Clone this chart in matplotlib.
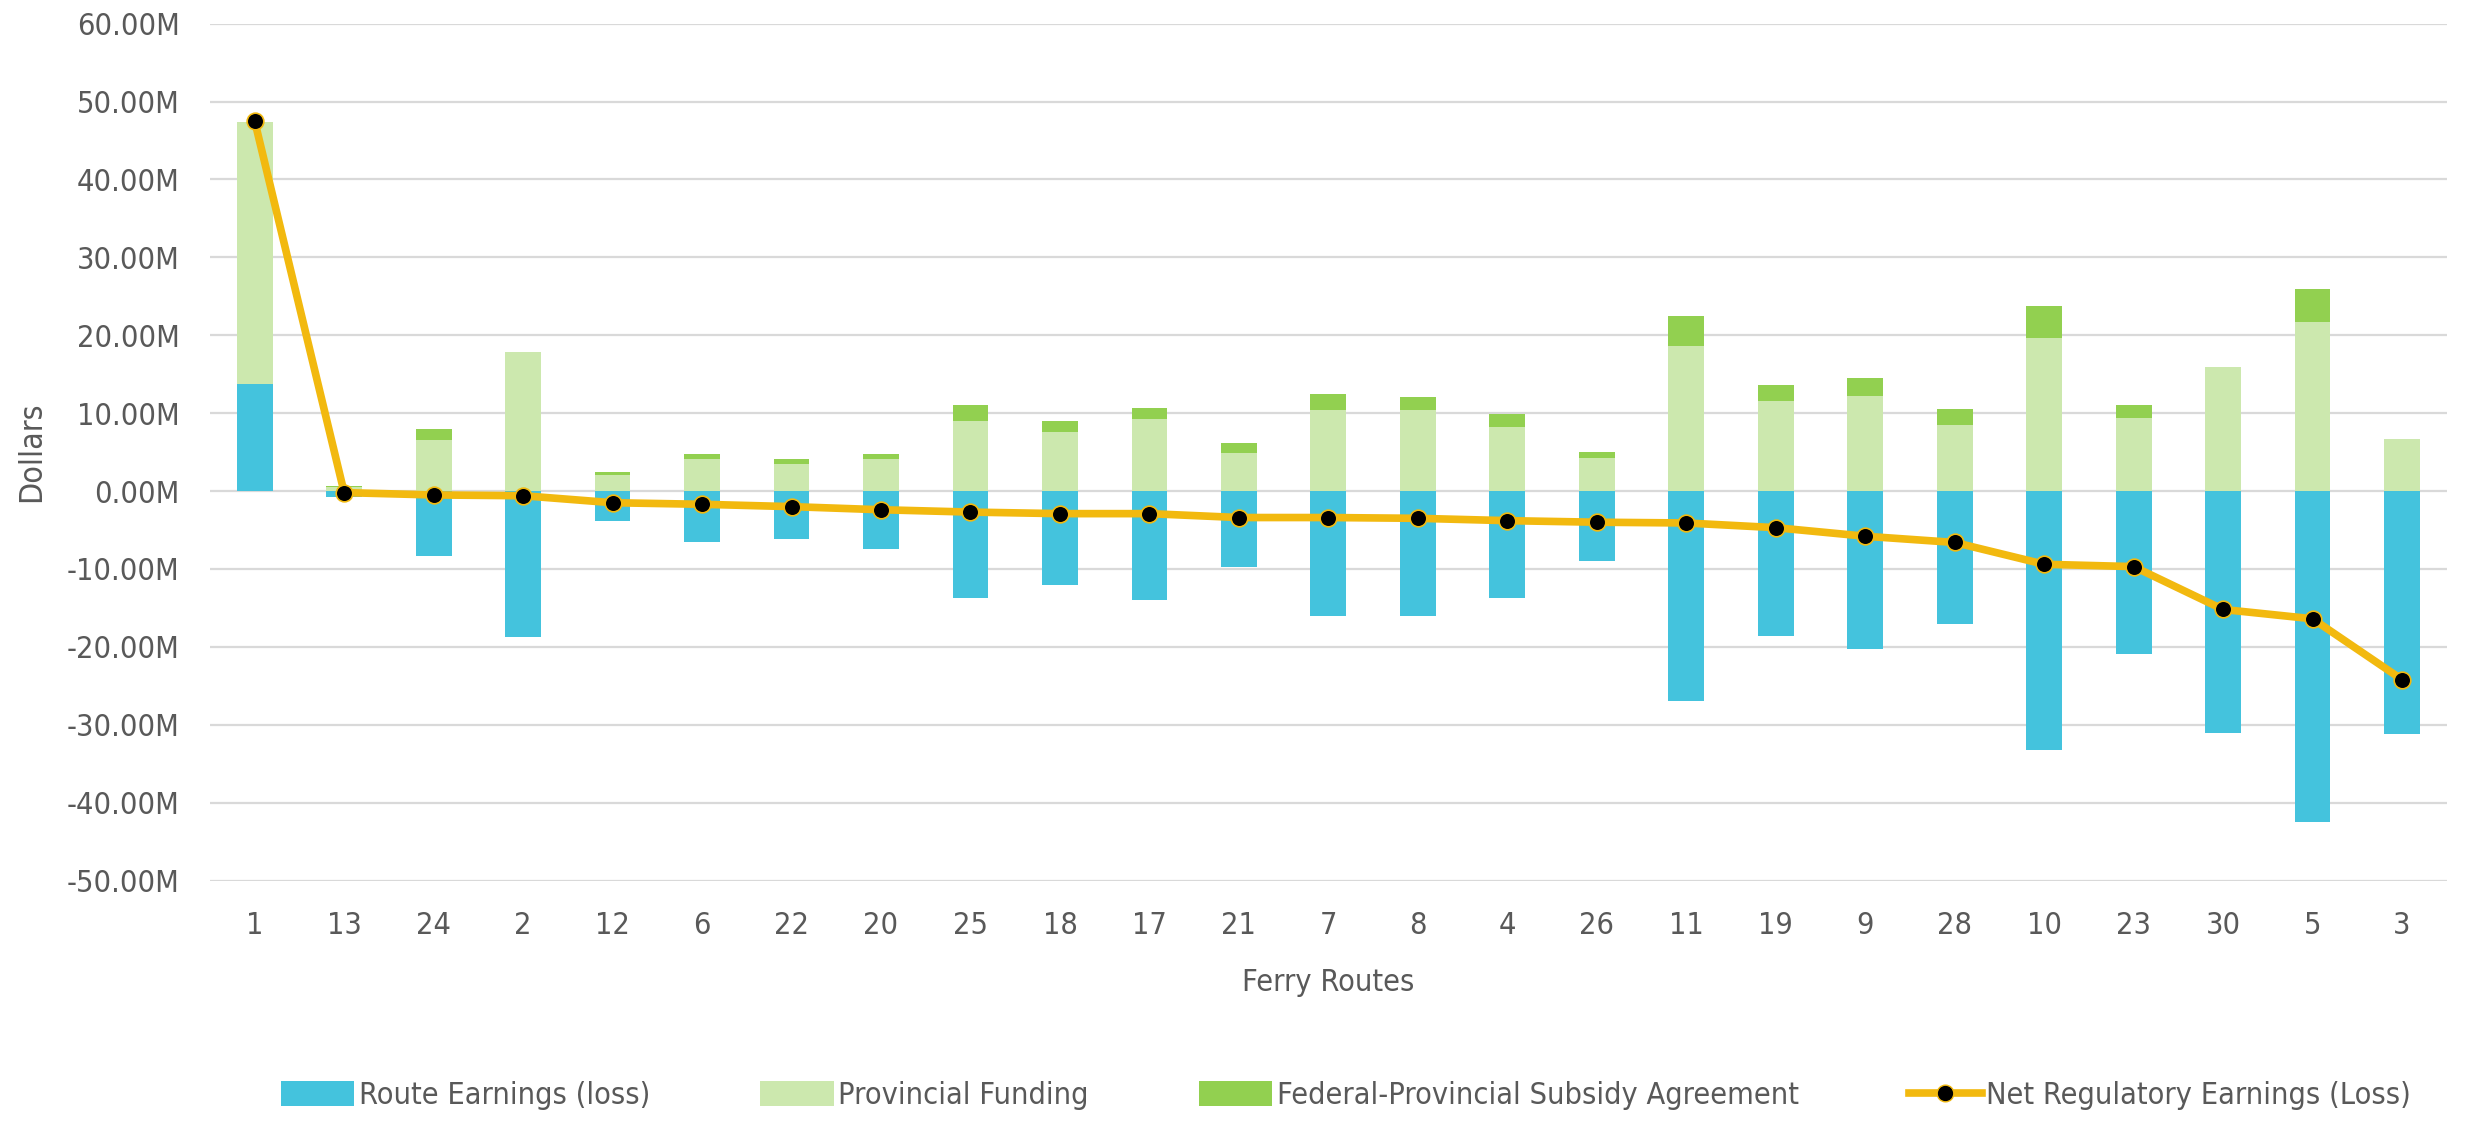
import matplotlib
matplotlib.use('Agg')
import matplotlib.pyplot as plt
import numpy as np
from matplotlib.ticker import FuncFormatter, MultipleLocator
from matplotlib.lines import Line2D
from matplotlib.patches import Patch

plt.rcParams['font.family'] = ['DejaVu Sans']
plt.rcParams['font.stretch'] = 'condensed'

routes = ['1', '13', '24', '2', '12', '6', '22', '20', '25', '18', '17', '21', '7',
          '8', '4', '26', '11', '19', '9', '28', '10', '23', '30', '5', '3']
# values in millions of dollars
route_earnings = [13.7, -0.7, -8.4, -18.8, -3.9, -6.5, -6.2, -7.4, -13.7, -12.0, -14.0, -9.7, -16.0,
                  -16.0, -13.7, -9.0, -27.0, -18.6, -20.3, -17.1, -33.3, -20.9, -31.0, -42.5, -31.2]
provincial = [33.7, 0.5, 6.6, 17.9, 2.1, 4.1, 3.5, 4.1, 9.0, 7.6, 9.3, 4.9, 10.4,
              10.4, 8.2, 4.2, 18.6, 11.6, 12.2, 8.5, 19.7, 9.4, 15.9, 21.7, 6.7]
federal = [0.0, 0.2, 1.4, 0.0, 0.3, 0.6, 0.6, 0.6, 2.0, 1.4, 1.4, 1.3, 2.1,
           1.7, 1.7, 0.8, 3.9, 2.0, 2.3, 2.0, 4.0, 1.6, 0.0, 4.3, 0.0]
net_earnings = [47.5, -0.2, -0.5, -0.6, -1.5, -1.7, -2.0, -2.4, -2.7, -2.9, -2.9, -3.4, -3.4,
                -3.5, -3.8, -4.0, -4.1, -4.7, -5.8, -6.6, -9.4, -9.7, -15.2, -16.4, -24.2]

blue = '#44C3DD'
light_green = '#CCE8AE'
green = '#92D050'
gold = '#F2B90F'
text_col = '#595959'
grid_col = '#D9D9D9'

fig = plt.figure(figsize=(24.79, 11.21), dpi=100)
ax = fig.add_axes([0.0847, 0.2145, 0.9023, 0.7644])

x = np.arange(len(routes))
re = np.array(route_earnings)
pv = np.array(provincial)
fd = np.array(federal)
pos_base = np.clip(re, 0, None)
w = 0.4

ax.bar(x, re, w, color=blue, zorder=2, label='Route Earnings (loss)')
ax.bar(x, pv, w, bottom=pos_base, color=light_green, zorder=2, label='Provincial Funding')
ax.bar(x, fd, w, bottom=pos_base + pv, color=green, zorder=2, label='Federal-Provincial Subsidy Agreement')
ax.plot(x, net_earnings, color=gold, linewidth=5.5, marker='o', markersize=12,
        markerfacecolor='black', markeredgecolor=gold, markeredgewidth=1.2, zorder=3)

ax.set_xlim(-0.5, len(routes) - 0.5)
ax.set_ylim(-50, 60)
ax.yaxis.set_major_locator(MultipleLocator(10))
ax.yaxis.set_major_formatter(FuncFormatter(lambda v, p: f'{v:.2f}M'))
ax.set_xticks(x)
ax.set_xticklabels(routes)
ax.grid(True, axis='y', color=grid_col, linewidth=1.6, zorder=0)
ax.set_axisbelow(True)
for sp in ax.spines.values():
    sp.set_visible(False)
ax.tick_params(axis='both', length=0, colors=text_col, labelsize=22)
ax.tick_params(axis='y', pad=22)
ax.tick_params(axis='x', pad=22)

ax.set_xlabel('Ferry Routes', fontsize=22, color=text_col, labelpad=20)
ax.set_ylabel('Dollars', fontsize=23, color=text_col, labelpad=14)

handles = [
    Patch(facecolor=blue, label='Route Earnings (loss)'),
    Patch(facecolor=light_green, label='Provincial Funding'),
    Patch(facecolor=green, label='Federal-Provincial Subsidy Agreement'),
    Line2D([0], [0], color=gold, linewidth=5.5, marker='o', markersize=12,
           markerfacecolor='black', markeredgecolor=gold, label='Net Regulatory Earnings (Loss)'),
]
fig.legend(handles=handles, loc='lower center', bbox_to_anchor=(0.543, -0.015), ncol=4,
           frameon=False, fontsize=22, labelcolor=text_col, columnspacing=3.6,
           handlelength=2.4, handleheight=0.9, handletextpad=0.15)

fig.savefig('out.png', dpi=100)
